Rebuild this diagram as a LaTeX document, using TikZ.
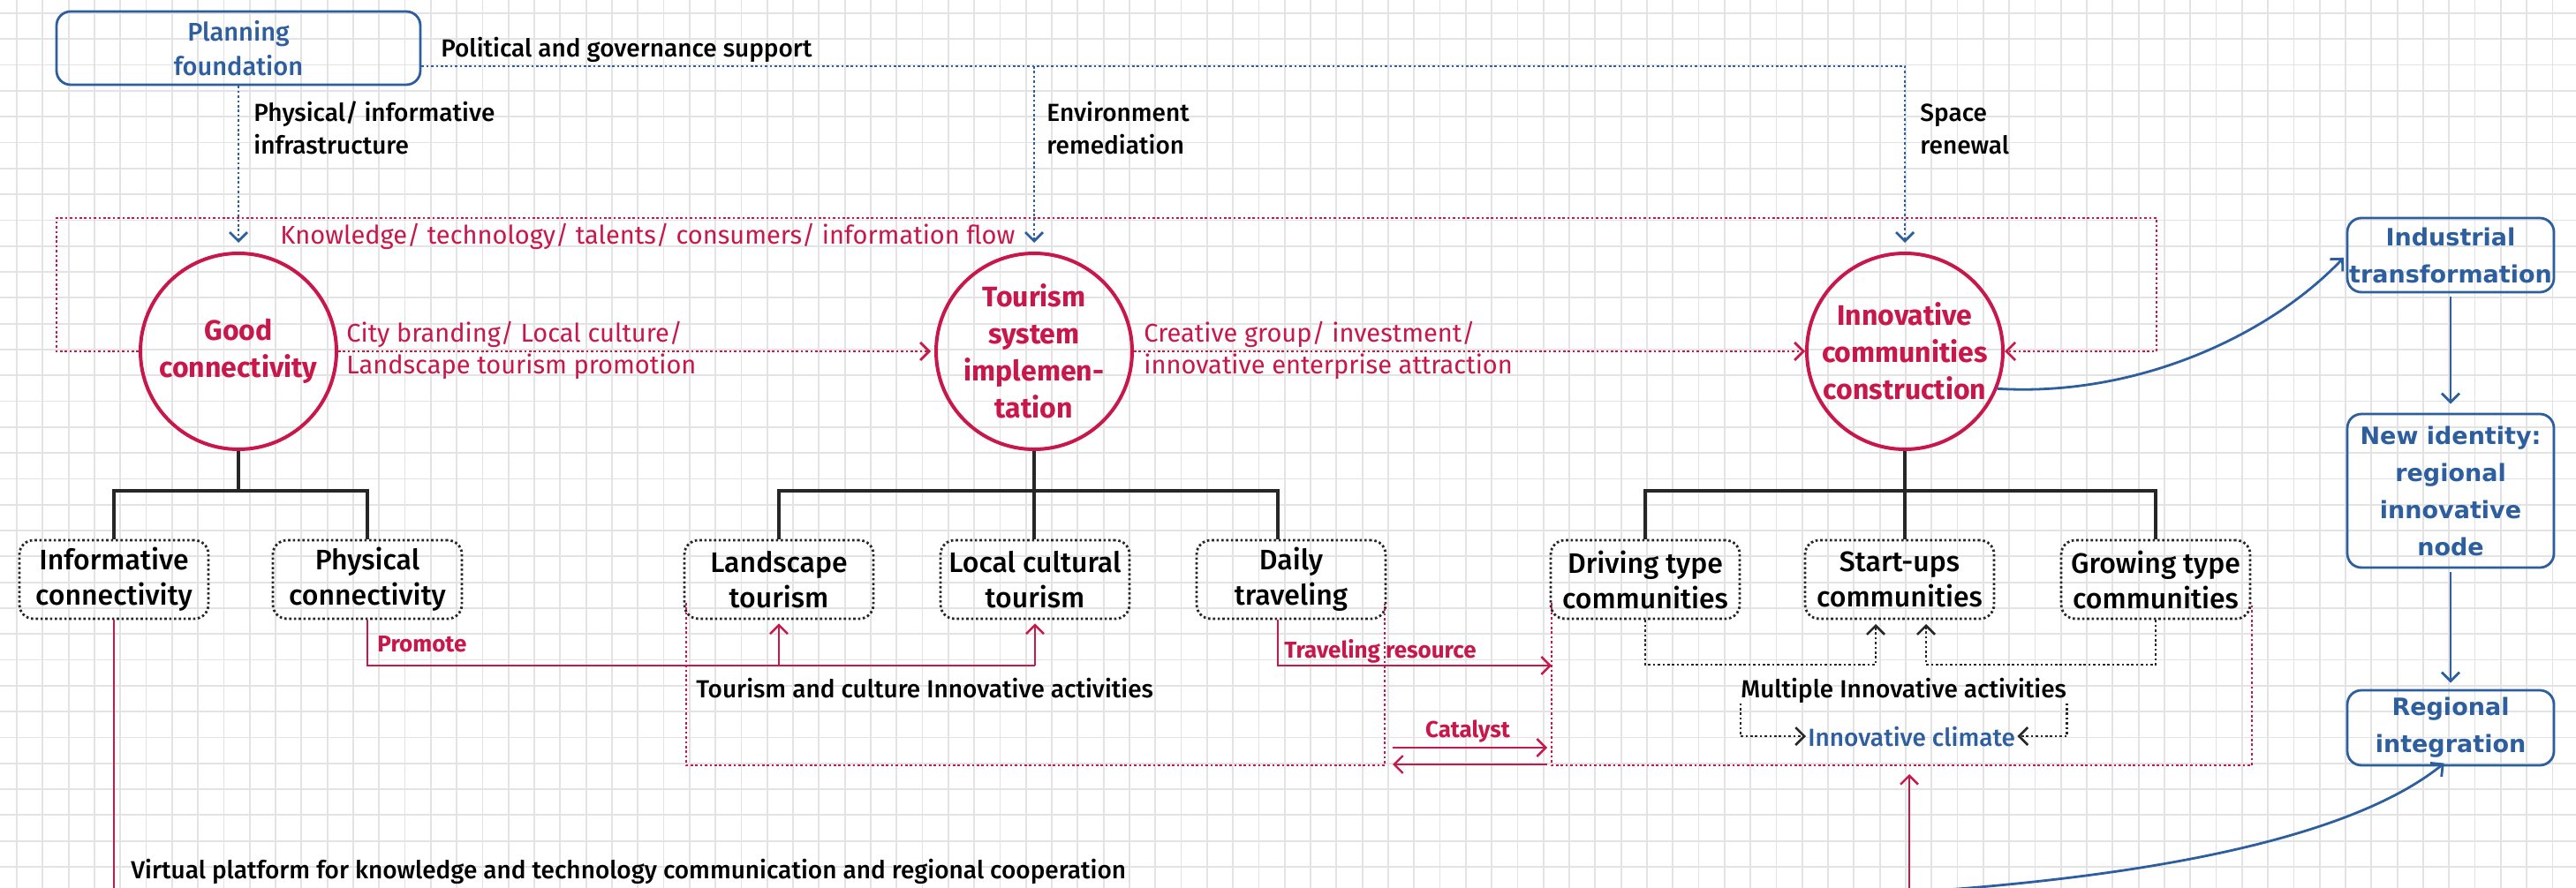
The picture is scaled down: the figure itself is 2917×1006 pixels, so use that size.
\documentclass[tikz,border=0pt]{standalone}
\usepackage{fontspec}
\setmainfont{Fira Sans}
\newfontfamily\medfont{Fira Sans}[UprightFont={* Medium}]
\newfontfamily\dvsans{DejaVu Sans}
\usetikzlibrary{arrows.meta,calc}
\definecolor{cred}{HTML}{C8174A}
\definecolor{cblue}{HTML}{2D5E9E}
\definecolor{gridc}{HTML}{E3E3E3}
\tikzset{
  >={Straight Barb[length=5pt,width=10pt]},
  gridline/.style={gridc, line width=0.9pt},
  reddot/.style={cred, line width=1.4pt, dash pattern=on 1.3pt off 1.4pt},
  bluedot/.style={cblue, line width=1.4pt, dash pattern=on 1.3pt off 1.4pt},
  blackdash/.style={black!85, line width=1.3pt, dash pattern=on 1.3pt off 1.4pt},
  treeline/.style={black!85, line width=1.6pt},
  redline/.style={cred, line width=1.2pt},
  blueline/.style={cblue, line width=1.4pt},
  sbox/.style={draw=black!85, line width=1.4pt, dash pattern=on 1.3pt off 1.4pt, rounded corners=8pt, minimum width=107pt, minimum height=44.5pt, inner sep=0pt, align=center, text=black, font=\medfont\fontsize{16}{20}\selectfont},
  bigcirc/.style={circle, draw=cred, line width=2pt, minimum size=111pt, inner sep=0pt, align=center, text=cred, font=\bfseries\fontsize{16}{21}\selectfont},
  bbox/.style={draw=cblue, line width=1.4pt, rounded corners=8pt, minimum width=117pt, inner sep=0pt, align=center, text=cblue, font=\dvsans\bfseries\fontsize{13.5}{21}\selectfont},
  lab/.style={anchor=base west, inner sep=0pt, text=black, font=\medfont\fontsize{14}{18}\selectfont},
  rlab/.style={anchor=base west, inner sep=0pt, text=cred, font=\fontsize{14.5}{18}\selectfont},
  rblab/.style={anchor=base west, inner sep=0pt, text=cred, font=\bfseries\fontsize{13}{16}\selectfont},
}
\begin{document}
\begin{tikzpicture}[x=0.5pt,y=-0.5pt]
\useasboundingbox (0,0) rectangle (2917,1006);
\clip (0,0) rectangle (2917,1006);
\fill[white] (0,0) rectangle (2917,1006);
\foreach \i in {0,...,99} \draw[gridline] ({19+29.3*\i},0) -- ({19+29.3*\i},1006);
\foreach \j in {0,...,34} \draw[gridline] (0,{15+29.3*\j}) -- (2917,{15+29.3*\j});

% helper levels
\coordinate (py) at (0,75);
\coordinate (jy) at (0,556);
\coordinate (ry) at (0,754);
\coordinate (by) at (0,753);
\coordinate (boty) at (0,1012);

% main nodes
\node[draw=cblue, line width=1.4pt, rounded corners=8pt, minimum width=206pt, minimum height=41.5pt, inner sep=0pt, align=center, text=cblue, font=\medfont\fontsize{14.5}{19.5}\selectfont] (plan) at (270,54.5) {Planning\\foundation};

\node[bigcirc] (good) at (270,398) {Good\\connectivity};
\node[bigcirc] (tour) at (1171,398) {Tourism\\system\\implemen-\\tation};
\node[bigcirc] (innov) at (2157,398) {Innovative\\communities\\construction};

\node[bbox, minimum height=42pt] (ind) at (2775,289) {Industrial\\transformation};
\node[bbox, minimum height=87pt] (newid) at (2775,556) {New identity:\\regional\\innovative\\node};
\node[bbox, minimum height=42.5pt] (reg) at (2775,824.5) {Regional\\integration};

\node[sbox] (info) at (129,656.5) {Informative\\connectivity};
\node[sbox] (phys) at (416,656.5) {Physical\\connectivity};
\node[sbox] (land) at (882,656.5) {Landscape\\tourism};
\node[sbox] (local) at (1172,656.5) {Local cultural\\tourism};
\node[sbox] (daily) at (1462,656.5) {Daily\\traveling};
\node[sbox] (drive) at (1863,656.5) {Driving type\\communities};
\node[sbox] (start) at (2151,656.5) {Start-ups\\communities};
\node[sbox] (grow) at (2441,656.5) {Growing type\\communities};

% labels
\node[lab] (lpol) at (499,65) {Political and governance support};
\node[lab] (lphys1) at (287,138) {Physical/ informative};
\node[lab] (lphys2) at (287,175) {infrastructure};
\node[lab] (lenv1) at (1185,138) {Environment};
\node[lab] (lenv2) at (1185,175) {remediation};
\node[lab] (lspa1) at (2174,138) {Space};
\node[lab] (lspa2) at (2174,175) {renewal};
\node[rlab] (lknow) at (317,276) {Knowledge/ technology/ talents/ consumers/ information flow};
\node[rlab] (lcity1) at (392,387) {City branding/ Local culture/};
\node[rlab] (lcity2) at (392,423) {Landscape tourism promotion};
\node[rlab] (lcre1) at (1295,387) {Creative group/ investment/};
\node[rlab] (lcre2) at (1295,423) {innovative enterprise attraction};
\node[rblab] (lprom) at (427,738) {Promote};
\node[rblab] (ltrav) at (1454,745) {Traveling resource};
\node[rblab, anchor=base] (lcat) at (1662,835) {Catalyst};
\node[lab] (ltour) at (788,790) {Tourism and culture Innovative activities};
\node[lab] (lmia) at (1971,790) {Multiple Innovative activities};
\node[lab, text=cblue] (lclim) at (2047,845) {Innovative climate};
\node[lab] (lvirt) at (148,995) {Virtual platform for knowledge and technology communication and regional cooperation};

% blue dotted support lines
\draw[bluedot,->,shorten >=5pt] (plan.east |- py) -| (innov.north);
\draw[bluedot,->,shorten >=5pt] (tour.north |- py) -- (tour.north);
\draw[bluedot,->,shorten >=5pt] (plan.south) -- (good.north);

% red dotted flows
\draw[reddot,->] (good.west) -- (64,398) -- (64,247) -- (2442,247) -- (2442,398) -- (innov.east);
\draw[reddot,->,shorten >=2pt] (good.east) -- (tour.west);
\draw[reddot,->] (tour.east) -- (innov.west);

% tree lines
\draw[treeline] (good.south) -- (good.south |- jy);
\draw[treeline] (info.north) |- (phys.north |- jy) -- (phys.north);
\coordinate (dtop) at ([xshift=-7.5pt]daily.north);
\coordinate (dbot) at ([xshift=-7.5pt]daily.south);
\draw[treeline] (tour.south) -- (tour.south |- local.north);
\draw[treeline] (land.north) |- (dtop |- jy) -- (dtop);
\draw[treeline] (innov.south) -- (innov.south |- start.north);
\draw[treeline] (drive.north) |- (grow.north |- jy) -- (grow.north);

% red dashed clusters
\coordinate (c1tl) at (777,683);
\coordinate (c1tr) at (1568,683);
\coordinate (c2tl) at (1757,683);
\coordinate (c2tr) at (2550,683);
\draw[reddot] (c1tl) -- (777,867) -- (1568,867) -- (c1tr);
\draw[reddot] (c2tl) -- (1757,867) -- (2550,867) -- (c2tr);

% promote
\draw[redline] (phys.south) |- (local.south |- ry);
\draw[redline,->,shorten >=2pt] (land.south |- ry) -- (land.south);
\draw[redline,->,shorten >=2pt] (local.south |- ry) -- (local.south);
% traveling resource
\draw[redline,->] (dbot) |- (c2tl |- ry);
% catalyst
\coordinate (cat1) at (1577,847);
\coordinate (cat2) at (1752,847);
\coordinate (cat3) at (1752,866);
\coordinate (cat4) at (1577,866);
\draw[redline,->] (cat1) -- (cat2);
\draw[redline,->] (cat3) -- (cat4);

% black dashed inside innovation cluster
\coordinate (sa) at (2124,701);
\coordinate (sb) at (2181,701);
\draw[blackdash,->,shorten >=3pt] (drive.south) |- (sa |- by) -- (sa);
\draw[blackdash,->,shorten >=3pt] (grow.south) |- (sb |- by) -- (sb);
\draw[blackdash,->,shorten >=1pt] (lmia.south west) |- (lclim.west);
\draw[blackdash,->,shorten >=1pt] (lmia.south east) |- (lclim.east);

% bottom red lines
\draw[redline] (info.south) -- (info.south |- boty);
\coordinate (rb) at (2162,1012);
\coordinate (rt) at (2162,867);
\draw[redline,->,shorten >=5pt] (rb) -- (rt);

% blue arrows right column
\draw[blueline,->,shorten >=2pt] (innov.-22) .. controls (2420,450) and (2570,380) .. (ind.west);
\draw[blueline,->,shorten >=5pt,shorten <=2pt] (ind.south) -- (newid.north);
\draw[blueline,->,shorten >=3.5pt,shorten <=2pt] (newid.south) -- (reg.north);
\coordinate (bb) at (2110,1014);
\draw[blueline,->,shorten >=-3pt] (bb) .. controls (2380,1000) and (2650,960) .. ([xshift=-6pt]reg.south);
\end{tikzpicture}
\end{document}
